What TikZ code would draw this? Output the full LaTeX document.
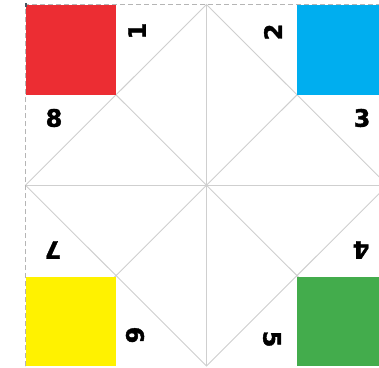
\documentclass[tikz,border=0pt]{standalone}
\usepackage{fontspec}
\newfontfamily\numfont[FakeBold=1.6]{DejaVu Sans Bold}
\definecolor{cred}{HTML}{EC2D33}
\definecolor{cblue}{HTML}{00AEEF}
\definecolor{cyellow}{HTML}{FFF200}
\definecolor{cgreen}{HTML}{43AC4C}
\definecolor{fold}{HTML}{CFCFCF}
\definecolor{cut}{HTML}{B5B5B5}
\tikzset{
  foldline/.style={draw=fold, line width=0.9pt},
  cutline/.style={draw=cut, line width=0.8pt, dash pattern=on 5pt off 3pt},
  num/.style={font=\numfont\fontsize{24}{24}\selectfont, inner sep=0pt, text=black},
}
\begin{document}
\begin{tikzpicture}[x=1pt,y=-1pt]
\useasboundingbox (0,0) rectangle (379,367);
\clip (0,0) rectangle (379,367);
\fill[white] (0,0) rectangle (379,367);
% corners of the big square
\coordinate (TL) at (25.5,4.5);
\coordinate (TR) at (387.5,4.5);
\coordinate (BL) at (25.5,366);
\coordinate (BR) at (387.5,366);
\coordinate (C) at (206.5,185.2);
\coordinate (Tm) at (206.5,4.5);
\coordinate (Bm) at (206.5,366);
\coordinate (Lm) at (25.5,185.2);
\coordinate (Rm) at (387.5,185.2);
% fold lines
\draw[foldline] (Tm) -- (Lm) -- (Bm) -- (Rm) -- cycle;
\draw[foldline] (Tm) -- (Bm);
\draw[foldline] (Lm) -- (Rm);
\draw[foldline] (TL) -- (BR);
\draw[foldline] (TR) -- (BL);
% cut border
\draw[cutline] (BL) -- (TL) -- (TR);
% colour squares
\fill[cred] (25.5,4.5) rectangle (115.5,94.5);
\fill[cblue] (297,4.5) rectangle (387.5,94.5);
\fill[cyellow] (25.5,276.5) rectangle (115.5,366);
\fill[cgreen] (297,276.5) rectangle (387.5,366);
\fill[black!70!cyan] (24.5,2.5) rectangle (27,7);
% numbers
\node[num, rotate=90] (n1) at (137,31) {1};
\node[num, rotate=90] (n2) at (273,32) {2};
\node[num] (n8) at (54,118) {8};
\node[num] (n3) at (362,118) {3};
\node[num, rotate=180] (n7) at (53,250) {7};
\node[num, rotate=180] (n4) at (361,250) {4};
\node[num, rotate=-90] (n6) at (135,335) {6};
\node[num, rotate=-90] (n5) at (272,339) {5};
\end{tikzpicture}
\end{document}
